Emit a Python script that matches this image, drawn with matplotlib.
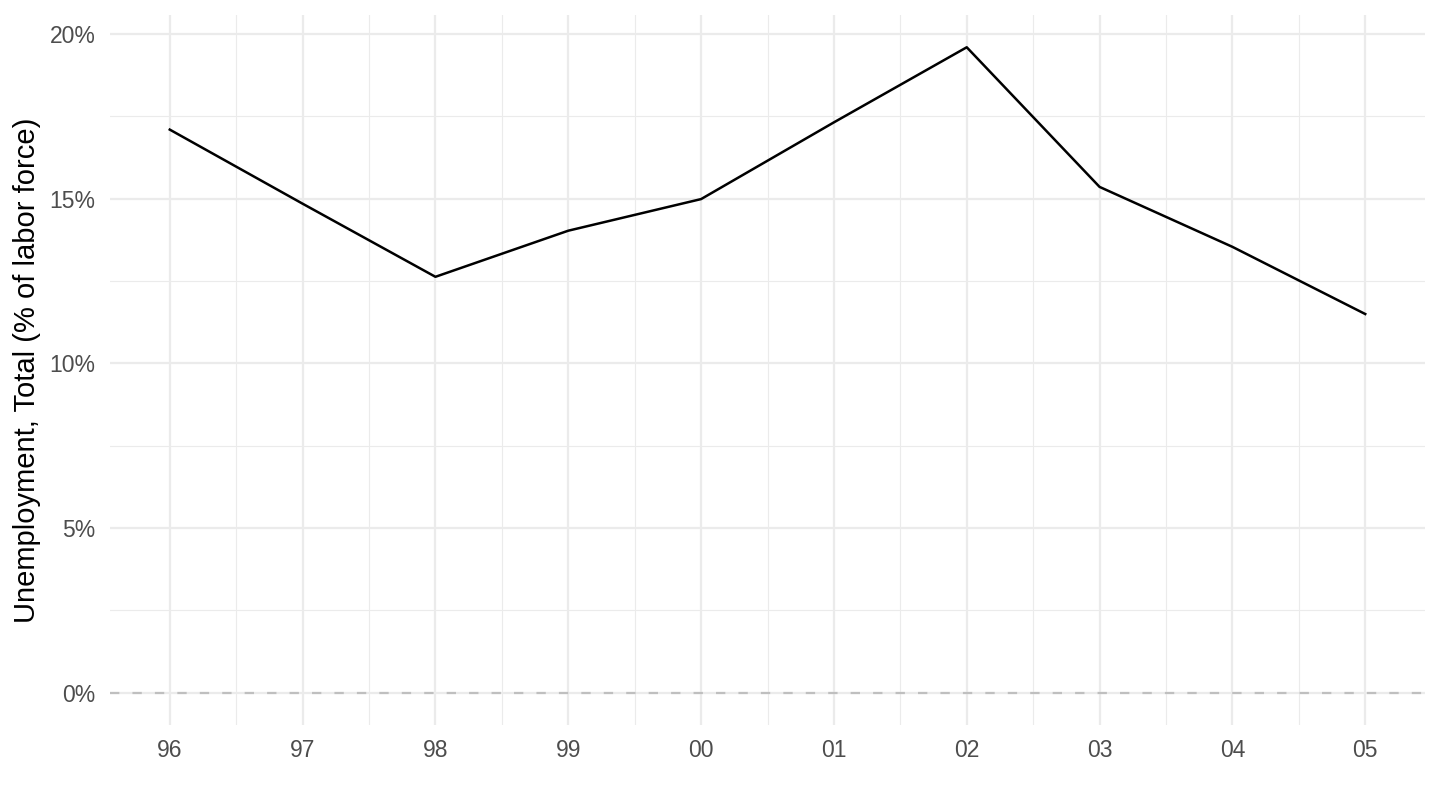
import matplotlib
matplotlib.use("Agg")
import matplotlib.pyplot as plt
from matplotlib.ticker import FixedLocator, FuncFormatter

# Données
years = [1996, 1997, 1998, 1999, 2000, 2001, 2002, 2003, 2004, 2005]
unemp = [17.1, 14.85, 12.63, 14.03, 14.99, 17.32, 19.6, 15.36, 13.54, 11.5]

year_labels = ["96", "97", "98", "99", "00", "01", "02", "03", "04", "05"]
y_ticks = [0, 5, 10, 15, 20]

plt.rcParams['font.family'] = ['Liberation Sans', 'DejaVu Sans']

fig = plt.figure(figsize=(14.4, 8.1), dpi=100)
ax = fig.add_axes([110 / 1440, 85 / 810, 1315 / 1440, 710 / 810])

# grille style theme_minimal
ax.set_xticks(years)
ax.set_xticklabels(year_labels)
ax.xaxis.set_minor_locator(FixedLocator([y + 0.5 for y in years[:-1]]))
ax.set_yticks(y_ticks)
ax.yaxis.set_major_formatter(FuncFormatter(lambda v, p: f"{v:.0f}%"))
ax.yaxis.set_minor_locator(FixedLocator([v + 2.5 for v in y_ticks[:-1]]))

ax.grid(which='major', color='#ebebeb', linewidth=1.6)
ax.grid(which='minor', color='#ebebeb', linewidth=0.8)
ax.set_axisbelow(True)

ax.axhline(0, color='#bfbfbf', linewidth=1.6, linestyle=(0, (4.2, 5.9)))
ax.plot(years, unemp, color='black', linewidth=1.8)

lo = min(0, min(unemp))
hi = max(unemp)
pad = (hi - lo) * 0.05
ax.set_ylim(lo - pad, hi + pad)
xpad = (years[-1] - years[0]) * 0.05
ax.set_xlim(years[0] - xpad, years[-1] + xpad)

for s in ax.spines.values():
    s.set_visible(False)
ax.tick_params(which='both', length=0, labelsize=16.5, labelcolor='#4d4d4d')
ax.tick_params(axis='x', pad=10)
ax.tick_params(axis='y', pad=10.5)

ax.set_ylabel("Unemployment, Total (% of labor force)", fontsize=21, color='black', labelpad=6)

fig.savefig("out.png", dpi=100)
